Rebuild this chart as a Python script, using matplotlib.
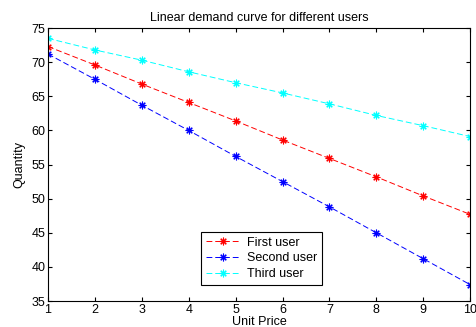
import matplotlib.pyplot as plt

plt.rcParams["font.family"] = ["Liberation Sans", "DejaVu Sans"]

unit_price = [1, 2, 3, 4, 5, 6, 7, 8, 9, 10]
first_user = [72.3, 69.6, 66.8, 64.1, 61.4, 58.6, 55.9, 53.2, 50.4, 47.7]
second_user = [71.2, 67.5, 63.7, 60.0, 56.2, 52.5, 48.8, 45.0, 41.2, 37.4]
third_user = [73.5, 71.8, 70.3, 68.6, 67.0, 65.5, 63.9, 62.2, 60.7, 59.1]

fig = plt.figure(figsize=(4.77, 3.27), dpi=100)
ax = fig.add_axes([0.1006, 0.0795, 0.885, 0.8345])

style = dict(linestyle=(0, (6, 3)), linewidth=0.7, marker=(8, 2, 0),
             markersize=5.5, markeredgewidth=0.8)
ax.plot(unit_price, first_user, color="red", label="First user", **style)
ax.plot(unit_price, second_user, color="blue", label="Second user", **style)
ax.plot(unit_price, third_user, color="cyan", label="Third user", **style)

ax.set_xlim(1, 10)
ax.set_ylim(35, 75)
ax.set_xticks(unit_price)
ax.set_yticks(range(35, 80, 5))
ax.tick_params(direction="in", top=True, right=True, labelsize=9, length=3,
               pad=2)
for spine in ax.spines.values():
    spine.set_linewidth(0.8)

ax.set_title("Linear demand curve for different users", fontsize=9, pad=5)
ax.set_xlabel("Unit Price", fontsize=9, labelpad=0)
ax.set_ylabel("Quantity", fontsize=9, labelpad=4)

leg = ax.legend(loc="lower center", bbox_to_anchor=(0.506, 0.035), fontsize=9,
                fancybox=False, edgecolor="black", framealpha=1,
                handlelength=2.8, borderpad=0.4, labelspacing=0.3,
                handletextpad=0.5)
leg.get_frame().set_linewidth(0.8)

fig.savefig("out.png", dpi=100)
